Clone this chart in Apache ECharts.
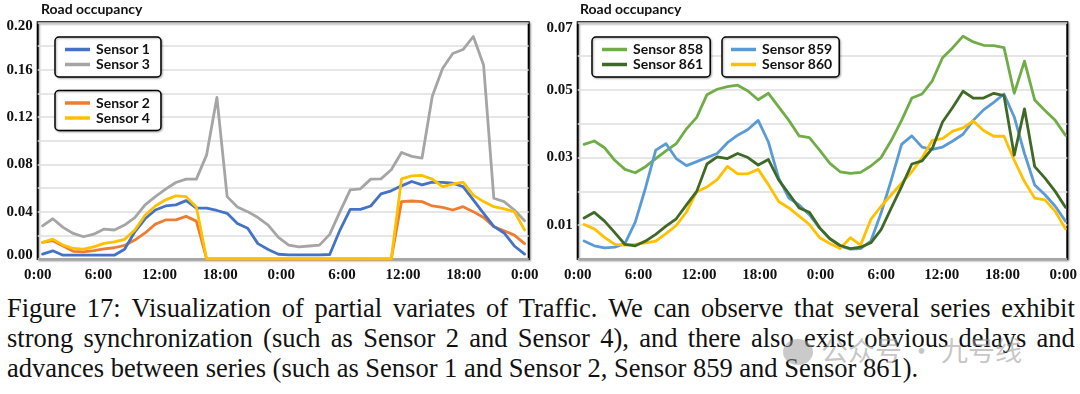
<!DOCTYPE html>
<html>
<head>
<meta charset="utf-8">
<script src="https://cdn.jsdelivr.net/npm/echarts@6/dist/echarts.min.js"></script>
<style>
html,body{margin:0;padding:0;background:#fff;width:1080px;height:394px;overflow:hidden;position:relative}
#chart{position:absolute;left:0;top:0;width:1080px;height:292px}
#caption{position:absolute;left:7px;top:292.7px;width:1068px;font-family:"Liberation Serif","Times New Roman",serif;font-size:26.5px;line-height:30px;color:#111}
#caption .j{white-space:nowrap;display:flex;justify-content:space-between}
#caption .l{text-align:left;white-space:nowrap}
#wm{position:absolute;left:783px;top:334px;height:32px;font-family:"Noto Sans CJK SC",sans-serif;font-size:27px;line-height:32px;color:rgba(150,150,150,0.55);white-space:nowrap}
#wm .ico{display:inline-block;width:30px;height:26px;border-radius:50%;background:rgba(150,150,150,0.5);vertical-align:-4px;margin-right:8px}
</style>
</head>
<body>
<div id="chart"></div>
<div id="caption"></div>
<div id="wm"><span class="ico"></span>公众号 · 九号线</div>
<script>
// ---- categories (hourly steps over two days) ----
const hourIndex = [0,1,2,3,4,5,6,7,8,9,10,11,12,13,14,15,16,17,18,19,20,21,22,23,
                   24,25,26,27,28,29,30,31,32,33,34,35,36,37,38,39,40,41,42,43,44,45,46,47];
const xTickLabels = ['0:00','6:00','12:00','18:00','0:00','6:00','12:00','18:00','0:00'];
const leftYTickLabels = ['0.00','0.04','0.08','0.12','0.16','0.20'];
const rightYTickLabels = ['0.01','0.03','0.05','0.07'];
const yAxisTitle = 'Road occupancy';

// ---- left panel ----
const sensor1 = [0.0041,0.0069,0.0032,0.0032,0.0032,0.0032,0.0032,0.0032,0.0083,0.023,
                 0.034,0.0414,0.0448,0.0457,0.0493,0.043,0.043,0.041,0.0386,0.030,
                 0.026,0.013,0.008,0.004,0.0035,0.0035,0.0035,0.0035,0.0038,0.0245,
                 0.042,0.042,0.0448,0.055,0.0576,0.0618,0.0655,0.0627,0.065,0.0647,
                 0.064,0.0612,0.050,0.0386,0.0276,0.022,0.011,0.0042];
const sensor3 = [0.028,0.034,0.0267,0.0216,0.0188,0.021,0.0253,0.0245,0.0287,0.035,
                 0.0457,0.0527,0.059,0.0646,0.0675,0.0675,0.088,0.1365,0.0527,0.044,
                 0.040,0.035,0.0287,0.0182,0.0117,0.0103,0.011,0.0117,0.0208,0.040,
                 0.0584,0.0593,0.0675,0.0677,0.0754,0.090,0.0867,0.0853,0.1376,0.161,
                 0.1736,0.177,0.188,0.164,0.0513,0.0485,0.0414,0.0323];
const sensor2 = [0.014,0.0155,0.011,0.0065,0.006,0.007,0.0085,0.0095,0.0115,0.016,
                 0.022,0.0295,0.033,0.033,0.036,0.032,0,0,0,0,
                 0,0,0,0,0,0,0,0,0,0,
                 0,0,0,0,0,0.0485,0.049,0.0485,0.0448,0.0437,
                 0.0414,0.0442,0.040,0.035,0.0273,0.0239,0.0202,0.013];
const sensor4 = [0.014,0.0168,0.0117,0.0089,0.0083,0.0103,0.0132,0.0145,0.0166,0.0245,
                 0.037,0.0448,0.050,0.0533,0.0527,0.044,0,0,0,0,
                 0,0,0,0,0,0,0,0,0,0,
                 0,0,0,0,0,0.0677,0.0703,0.0706,0.0675,0.0612,
                 0.0632,0.065,0.054,0.0485,0.0442,0.0423,0.040,0.0245];

// ---- right panel ----
const sensor858 = [0.0339,0.0349,0.0329,0.0292,0.0265,0.0255,0.0273,0.0297,0.032,0.0341,
                   0.0385,0.0419,0.0486,0.0502,0.051,0.0514,0.0497,0.0471,0.049,0.045,
                   0.041,0.0364,0.0359,0.0322,0.0283,0.0258,0.0253,0.0256,0.0275,0.030,
                   0.0351,0.041,0.0476,0.0488,0.0527,0.0595,0.0625,0.0659,0.0642,0.0632,
                   0.0631,0.0625,0.049,0.0585,0.047,0.0439,0.041,0.0366];
const sensor859 = [0.0053,0.0039,0.0033,0.0035,0.0046,0.0109,0.021,0.0322,0.0341,0.0297,
                   0.0276,0.0288,0.030,0.0312,0.0344,0.0366,0.0383,0.041,0.0346,0.0239,
                   0.018,0.016,0.0131,0.0092,0.006,0.0039,0.0029,0.0031,0.0053,0.0136,
                   0.0234,0.0339,0.0364,0.0331,0.0324,0.0331,0.0349,0.0369,0.041,0.0441,
                   0.0463,0.0488,0.042,0.0312,0.0219,0.019,0.0156,0.0112];
const sensor861 = [0.0121,0.0138,0.0112,0.0078,0.0043,0.0039,0.0053,0.0073,0.0097,0.0119,
                   0.016,0.020,0.0281,0.0302,0.0297,0.0312,0.030,0.0278,0.0294,0.0234,
                   0.0193,0.0151,0.0138,0.0092,0.006,0.004,0.0031,0.0035,0.0048,0.0087,
                   0.0151,0.0214,0.0281,0.029,0.0327,0.0405,0.0449,0.0496,0.0476,0.0476,
                   0.049,0.0483,0.0307,0.0444,0.0273,0.0239,0.020,0.0153];
const sensor860 = [0.0102,0.0089,0.0064,0.0043,0.0041,0.0043,0.0048,0.0053,0.0075,0.0099,
                   0.0139,0.0199,0.0213,0.0235,0.0274,0.0252,0.0252,0.0265,0.022,0.017,
                   0.0151,0.0127,0.0102,0.0063,0.0046,0.0031,0.0063,0.0041,0.0117,0.0156,
                   0.019,0.0224,0.0258,0.0299,0.0351,0.0356,0.0378,0.0388,0.0408,0.038,
                   0.0363,0.0363,0.0292,0.0229,0.018,0.0175,0.0141,0.0089];

const captionLines = [
  'Figure 17: Visualization of partial variates of Traffic. We can observe that several series exhibit',
  'strong synchronization (such as Sensor 2 and Sensor 4), and there also exist obvious delays and',
  'advances between series (such as Sensor 1 and Sensor 2, Sensor 859 and Sensor 861).'
];

// caption
(function(){
  const cap = document.getElementById('caption');
  captionLines.forEach(function(line, i){
    const d = document.createElement('div');
    if (i < captionLines.length - 1) {
      d.className = 'j';
      line.split(' ').forEach(function(w){ const s=document.createElement('span'); s.textContent=w; d.appendChild(s); });
    } else {
      d.className = 'l';
      d.textContent = line;
    }
    cap.appendChild(d);
  });
})();

const COLORS = {
  s1:'#4472C4', s3:'#A5A5A5', s2:'#ED7D31', s4:'#FFC000',
  s858:'#70AD47', s861:'#3F6A26', s859:'#5B9BD5', s860:'#FFC000'
};
const tickFont = {fontFamily:'"Liberation Serif", serif', fontWeight:'bold', fontSize:15, color:'#111'};
const sansFont = {fontFamily:'Lato, "Open Sans", sans-serif', fontWeight:'bold', color:'#111'};

function pairs(arr){ return arr.map(function(v,i){ return [hourIndex[i], v]; }); }

function lineSeries(name, arr, color, xIdx, yIdx){
  return {
    name:name, type:'line', data:pairs(arr), xAxisIndex:xIdx, yAxisIndex:yIdx,
    showSymbol:false, symbol:'none', smooth:false, animation:false,
    lineStyle:{color:color, width:2.8, join:'round', cap:'round'},
    itemStyle:{color:color}, emphasis:{disabled:true}
  };
}

const grids = [
  {left:37.7, top:22.3, width:491, height:236.7},
  {left:577.7, top:22.3, width:491.5, height:236.7}
].map(function(g){
  return Object.assign(g, {show:true, borderColor:'#000', borderWidth:2, backgroundColor:'#fff',
    shadowColor:'rgba(0,0,0,0.35)', shadowBlur:2, shadowOffsetX:1.2, shadowOffsetY:1.2, containLabel:false});
});

function dataXAxis(gi, mn, mx){
  return {type:'value', gridIndex:gi, min:mn, max:mx, show:false};
}
function labelXAxis(gi){
  return {type:'value', gridIndex:gi, min:0, max:48.4, interval:6, position:'bottom',
    axisLine:{show:false}, axisTick:{show:false}, splitLine:{show:false},
    axisLabel:Object.assign({margin:9, showMinLabel:true, showMaxLabel:true,
      formatter:function(v){ const k=v/6; return Number.isInteger(k) && xTickLabels[k]!==undefined ? xTickLabels[k] : ''; }}, tickFont)
  };
}

function legendBox(names, left, top, pad){
  return {data:names, orient:'vertical', left:left, top:top, padding:pad, itemGap:0,
    itemWidth:25, itemHeight:3.5, icon:'rect', selectedMode:false,
    borderColor:'#000', borderWidth:1.5, borderRadius:4, backgroundColor:'#fff',
    shadowColor:'rgba(0,0,0,0.3)', shadowBlur:2, shadowOffsetX:1, shadowOffsetY:1,
    textStyle:Object.assign({fontSize:14, lineHeight:15, padding:[0,0,0,1]}, sansFont)};
}

const option = {
  animation:false,
  backgroundColor:'#fff',
  title:[
    {text:yAxisTitle, left:41, top:2.5, padding:0, textStyle:Object.assign({fontSize:14}, sansFont)},
    {text:yAxisTitle, left:580, top:2.5, padding:0, textStyle:Object.assign({fontSize:14}, sansFont)}
  ],
  legend:[
    legendBox(['Sensor 1','Sensor 3'], 55, 37, [5,11,5,10]),
    legendBox(['Sensor 2','Sensor 4'], 55, 90.5, [5,11,5,10]),
    legendBox(['Sensor 858','Sensor 861'], 592, 37, [5,7,5,10]),
    legendBox(['Sensor 859','Sensor 860'], 722, 37, [5,7,5,9])
  ],
  grid:grids,
  xAxis:[dataXAxis(0,-0.47,47.4), labelXAxis(0), dataXAxis(1,-0.62,47.18), labelXAxis(1)],
  yAxis:[
    {type:'value', gridIndex:0, min:0, max:0.2, interval:0.02,
      axisLine:{show:false}, axisTick:{show:false},
      splitLine:{show:true, lineStyle:{color:'#dedede', width:1.5}},
      axisLabel:Object.assign({margin:5,
        formatter:function(v){ const n=Math.round(v*100); if(n%4!==0) return ''; const s=leftYTickLabels[n/4];
          if(n===20) return '{t|'+s+'}'; if(n===0) return '{b|'+s+'}'; return s; },
        rich:{t:Object.assign({padding:[8,0,0,0]}, tickFont), b:Object.assign({padding:[0,0,8,0]}, tickFont)}
      }, tickFont)},
    {type:'value', gridIndex:1, min:0, max:0.07, interval:0.01,
      axisLine:{show:false}, axisTick:{show:false},
      splitLine:{show:true, lineStyle:{color:'#dedede', width:1.5}},
      axisLabel:Object.assign({margin:5,
        formatter:function(v){ const n=Math.round(v*100); if(n%2!==1) return ''; const s=rightYTickLabels[(n-1)/2];
          if(n===7) return '{t|'+s+'}'; return s; },
        rich:{t:Object.assign({padding:[12,0,0,0]}, tickFont)}
      }, tickFont)}
  ],
  series:[
    lineSeries('Sensor 3', sensor3, COLORS.s3, 0, 0),
    lineSeries('Sensor 2', sensor2, COLORS.s2, 0, 0),
    lineSeries('Sensor 1', sensor1, COLORS.s1, 0, 0),
    lineSeries('Sensor 4', sensor4, COLORS.s4, 0, 0),
    lineSeries('Sensor 858', sensor858, COLORS.s858, 2, 1),
    lineSeries('Sensor 859', sensor859, COLORS.s859, 2, 1),
    lineSeries('Sensor 860', sensor860, COLORS.s860, 2, 1),
    lineSeries('Sensor 861', sensor861, COLORS.s861, 2, 1)
  ]
};

const chart = echarts.init(document.getElementById('chart'), null, {renderer:'canvas'});
chart.setOption(option);
</script>
</body>
</html>
